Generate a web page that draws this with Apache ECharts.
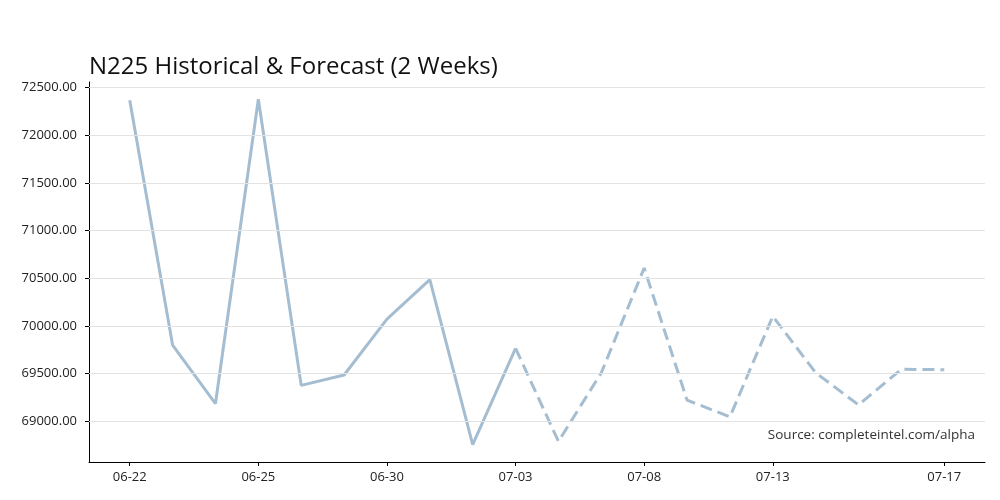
<!DOCTYPE html>
<html>
<head>
<meta charset="utf-8">
<script src="https://cdn.jsdelivr.net/npm/echarts@6/dist/echarts.min.js"></script>
<style>
  html, body { margin: 0; padding: 0; background: #fff; }
  #chart { width: 1000px; height: 500px; }
</style>
</head>
<body>
<div id="chart"></div>
<script>
// trading days, historical + 2-week forecast
const dates = ['06-22', '06-23', '06-24', '06-25', '06-26', '06-29', '06-30', '07-01', '07-02', '07-03',
  '07-06', '07-07', '07-08', '07-09', '07-10', '07-13', '07-14', '07-15', '07-16', '07-17']
const historical = [72368, 69798, 69184, 72379, 69375, 69484, 70070, 70485, 68752, 69764]
// forecast starts on the last historical day (07-03)
const forecast = [69764, 68787, 69508, 70607, 69220, 69045, 70101, 69508, 69170, 69544, 69540]
const xLabelIdx = [0, 3, 6, 9, 12, 15, 19]
const yTicks = [69000, 69500, 70000, 70500, 71000, 71500, 72000, 72500]

const FONT = '"Open Sans", sans-serif'
const LINE = '#a5bdd1'

const histData = historical.map((v, i) => [i, v])
const fcStart = historical.length - 1
const fcData = forecast.map((v, i) => [fcStart + i, v])

// 5% padding like the original plot
const all = historical.concat(forecast)
const lo = Math.min(...all), hi = Math.max(...all)
const pad = (hi - lo) * 0.05
const xPad = (dates.length - 1) * 0.05

const chart = echarts.init(document.getElementById('chart'))
chart.setOption({
  animation: false,
  backgroundColor: '#fff',
  title: {
    text: 'N225 Historical & Forecast (2 Weeks)',
    left: 84,
    top: 50,
    textStyle: { fontFamily: FONT, fontSize: 24, fontWeight: 'normal', color: '#111' },
  },
  graphic: [{
    type: 'text',
    right: 25,
    top: 428,
    style: { text: 'Source: completeintel.com/alpha', font: '13.5px ' + FONT, fill: '#333' },
  }],
  grid: { left: 89, right: 15, top: 82, bottom: 38 },
  xAxis: {
    type: 'value',
    min: -xPad,
    max: dates.length - 1 + xPad,
    axisLine: { onZero: false, lineStyle: { color: '#000', width: 1 } },
    axisTick: { show: true, length: 4, lineStyle: { color: '#000' }, customValues: xLabelIdx },
    axisLabel: {
      customValues: xLabelIdx,
      formatter: (v) => dates[Math.round(v)],
      color: '#222', fontFamily: FONT, fontSize: 13, margin: 9,
    },
    splitLine: { show: false },
  },
  yAxis: {
    type: 'value',
    min: lo - pad,
    max: hi + pad,
    axisLine: { show: true, onZero: false, lineStyle: { color: '#000', width: 1 } },
    axisTick: { show: true, length: 4, lineStyle: { color: '#000' }, customValues: yTicks },
    axisLabel: {
      customValues: yTicks,
      formatter: (v) => v.toFixed(2),
      color: '#222', fontFamily: FONT, fontSize: 13, margin: 12,
    },
    splitLine: { show: false },
  },
  series: [
    {
      name: 'grid',
      type: 'line',
      data: [],
      silent: true,
      markLine: {
        silent: true,
        symbol: 'none',
        label: { show: false },
        lineStyle: { color: '#e3e3e3', width: 1, type: 'solid' },
        data: yTicks.map((v) => ({ yAxis: v })),
      },
    },
    {
      name: 'Historical',
      type: 'line',
      data: histData,
      symbol: 'none',
      lineStyle: { color: LINE, width: 3 },
    },
    {
      name: 'Forecast',
      type: 'line',
      data: fcData,
      symbol: 'none',
      lineStyle: { color: LINE, width: 3, type: [12, 6] },
    },
  ],
})
</script>
</body>
</html>
